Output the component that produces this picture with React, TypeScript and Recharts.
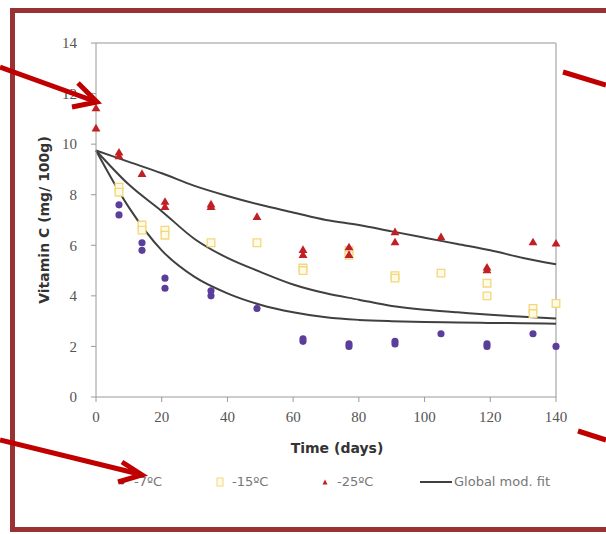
import {
  ComposedChart,
  Line,
  Scatter,
  XAxis,
  YAxis,
  ZAxis,
  ReferenceLine,
} from 'recharts';

// measured points, (day, vitamin C mg/100g)
const minus7 = [
  { t: 7, v: 7.6 }, { t: 7, v: 7.2 },
  { t: 14, v: 6.1 }, { t: 14, v: 5.8 },
  { t: 21, v: 4.7 }, { t: 21, v: 4.3 },
  { t: 35, v: 4.2 }, { t: 35, v: 4.0 },
  { t: 49, v: 3.5 },
  { t: 63, v: 2.3 }, { t: 63, v: 2.2 },
  { t: 77, v: 2.1 }, { t: 77, v: 2.0 },
  { t: 91, v: 2.2 }, { t: 91, v: 2.1 },
  { t: 105, v: 2.5 },
  { t: 119, v: 2.1 }, { t: 119, v: 2.0 },
  { t: 133, v: 2.5 },
  { t: 140, v: 2.0 },
];

const minus15 = [
  { t: 7, v: 8.3 }, { t: 7, v: 8.1 },
  { t: 14, v: 6.8 }, { t: 14, v: 6.6 },
  { t: 21, v: 6.6 }, { t: 21, v: 6.4 },
  { t: 35, v: 6.1 },
  { t: 49, v: 6.1 },
  { t: 63, v: 5.1 }, { t: 63, v: 5.0 },
  { t: 77, v: 5.8 }, { t: 77, v: 5.6 },
  { t: 91, v: 4.8 }, { t: 91, v: 4.7 },
  { t: 105, v: 4.9 },
  { t: 119, v: 4.5 }, { t: 119, v: 4.0 },
  { t: 133, v: 3.5 }, { t: 133, v: 3.3 },
  { t: 140, v: 3.7 },
];

const minus25 = [
  { t: 0, v: 11.4 }, { t: 0, v: 10.6 },
  { t: 7, v: 9.65 }, { t: 7, v: 9.5 },
  { t: 14, v: 8.8 },
  { t: 21, v: 7.7 }, { t: 21, v: 7.5 },
  { t: 35, v: 7.6 }, { t: 35, v: 7.5 },
  { t: 49, v: 7.1 },
  { t: 63, v: 5.8 }, { t: 63, v: 5.6 },
  { t: 77, v: 5.9 }, { t: 77, v: 5.6 },
  { t: 91, v: 6.5 }, { t: 91, v: 6.1 },
  { t: 105, v: 6.3 },
  { t: 119, v: 5.1 }, { t: 119, v: 5.0 },
  { t: 133, v: 6.1 },
  { t: 140, v: 6.05 },
];

// global model fit curves
const fitDays = [0, 10, 20, 30, 40, 50, 60, 70, 80, 90, 100, 110, 120, 130, 140];
const fit25 = [9.75, 9.3, 8.85, 8.35, 7.95, 7.6, 7.3, 7.0, 6.8, 6.55, 6.3, 6.05, 5.8, 5.5, 5.25];
const fit15 = [9.75, 8.4, 7.35, 6.25, 5.5, 4.95, 4.45, 4.1, 3.85, 3.6, 3.45, 3.35, 3.25, 3.17, 3.1];
const fit7 = [9.75, 7.5, 5.8, 4.75, 4.1, 3.65, 3.35, 3.15, 3.05, 3.0, 2.97, 2.95, 2.93, 2.92, 2.9];

const xTicks = [0, 20, 40, 60, 80, 100, 120, 140];
const yTicks = [0, 2, 4, 6, 8, 10, 12, 14];

const legendItems = [
  { label: '-7ºC', kind: 'circle', x: 114 },
  { label: '-15ºC', kind: 'square', x: 212 },
  { label: '-25ºC', kind: 'triangle', x: 317 },
  { label: 'Global mod. fit', kind: 'line', x: 418 },
];

const PURPLE = '#5b3d9c';
const YELLOW = '#f3d77e';
const RED = '#c01f24';
const LINE = '#404040';
const ARROW = '#c00000';

const toCurve = (vals: number[]) => fitDays.map((t, i) => ({ t, v: vals[i] }));

const tickStyle = { fontFamily: '"Liberation Serif", serif', fontSize: 15, fill: '#555' };

function LegendBox() {
  return (
    <>
      {legendItems.map((it) => (
        <div
          key={it.label}
          style={{
            position: 'absolute', left: it.x, top: 474, display: 'flex', alignItems: 'center',
            fontFamily: '"DejaVu Sans", sans-serif', fontSize: 13, color: '#777',
          }}
        >
          <svg width={it.kind === 'line' ? 34 : 18} height={14} style={{ marginRight: 2 }}>
            {it.kind === 'circle' && <circle cx={8} cy={7} r={2.5} fill={PURPLE} />}
            {it.kind === 'square' && <rect x={5} y={3} width={6} height={8} fill="#fffbe6" stroke={YELLOW} />}
            {it.kind === 'triangle' && <polygon points="8,4.5 10.5,9.5 5.5,9.5" fill={RED} />}
            {it.kind === 'line' && <line x1={2} y1={7} x2={34} y2={7} stroke={LINE} strokeWidth={2} />}
          </svg>
          <span>{it.label}</span>
        </div>
      ))}
    </>
  );
}

export default function App() {
  return (
    <div style={{ position: 'relative', width: 606, height: 534, overflow: 'hidden', background: '#fff' }}>
      <style>{'body{margin:0}'}</style>
      <ComposedChart
        width={606}
        height={534}
        margin={{ top: 43, right: 50, bottom: 107, left: 0 }}
      >
        <XAxis
          type="number"
          dataKey="t"
          domain={[0, 140]}
          ticks={xTicks}
          height={30}
          tick={tickStyle}
          tickMargin={9}
          tickSize={5}
          stroke="#9a9a9a"
        />
        <YAxis
          type="number"
          dataKey="v"
          domain={[0, 14]}
          ticks={yTicks}
          width={96}
          tick={tickStyle}
          tickMargin={14}
          tickSize={5}
          stroke="#9a9a9a"
          label={{
            value: 'Vitamin C (mg/ 100g)',
            angle: -90,
            position: 'insideLeft',
            offset: 44,
            style: { fontFamily: '"DejaVu Sans", sans-serif', fontSize: 14, fontWeight: 'bold', fill: '#333', textAnchor: 'middle' },
          }}
        />
        <ZAxis zAxisId="circ" range={[40, 40]} />
        <ZAxis zAxisId="sq" range={[58, 58]} />
        <ZAxis zAxisId="tri" range={[34, 34]} />
        <ReferenceLine y={14} stroke="#b8b8b8" strokeWidth={1.5} />
        <ReferenceLine x={140} stroke="#b8b8b8" strokeWidth={1.5} />
        <Line data={toCurve(fit25)} dataKey="v" type="monotone" stroke={LINE} strokeWidth={2} dot={false} isAnimationActive={false} />
        <Line data={toCurve(fit15)} dataKey="v" type="monotone" stroke={LINE} strokeWidth={2} dot={false} isAnimationActive={false} />
        <Line data={toCurve(fit7)} dataKey="v" type="monotone" stroke={LINE} strokeWidth={2} dot={false} isAnimationActive={false} />
        <Scatter data={minus7} dataKey="v" zAxisId="circ" fill={PURPLE} shape="circle" isAnimationActive={false} />
        <Scatter data={minus15} dataKey="v" zAxisId="sq" fill="#fffbe6" stroke={YELLOW} strokeWidth={1.3} shape="square" isAnimationActive={false} />
        <Scatter data={minus25} dataKey="v" zAxisId="tri" fill={RED} shape="triangle" isAnimationActive={false} />
      </ComposedChart>

      <div style={{ position: 'absolute', left: 237, width: 200, textAlign: 'center', top: 440, fontFamily: '"DejaVu Sans", sans-serif', fontSize: 14, fontWeight: 'bold', color: '#333' }}>
        Time (days)
      </div>

      <LegendBox />

      <svg width={606} height={534} style={{ position: 'absolute', left: 0, top: 0, pointerEvents: 'none' }}>
        <rect x={12.5} y={10.5} width={600} height={519} fill="none" stroke="#993333" strokeWidth={5} />
        <g stroke={ARROW} strokeWidth={5} fill="none" strokeLinecap="butt">
          <line x1={0} y1={67} x2={94} y2={101} />
          <polyline points="78,83 97,102 72,107" />
          <line x1={0} y1={440} x2={139} y2={474} />
          <polyline points="122,462 142,475 118,482" />
          <line x1={563} y1={72} x2={606} y2={85} />
          <line x1={578} y1={431} x2={606} y2={440} />
        </g>
      </svg>
    </div>
  );
}
